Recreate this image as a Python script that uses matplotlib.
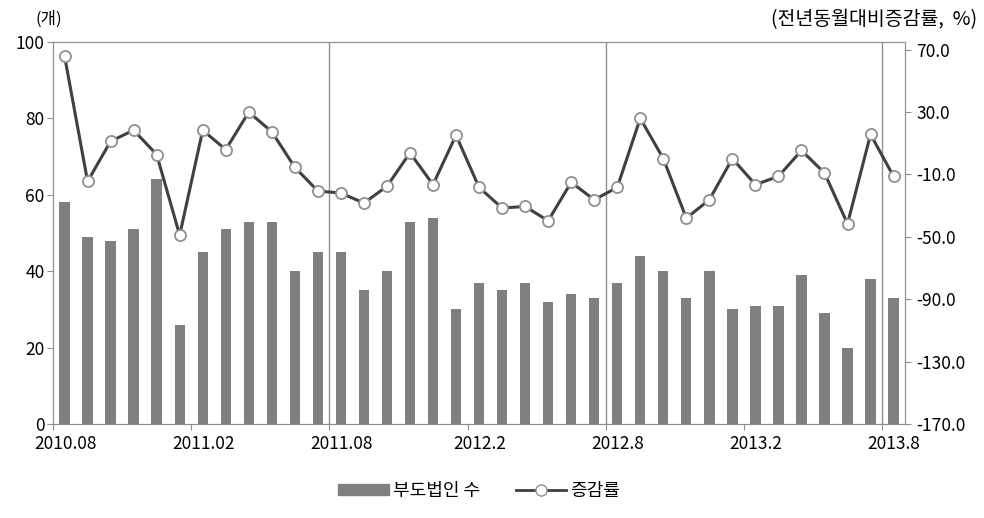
import matplotlib
matplotlib.use('Agg')
import matplotlib.pyplot as plt
import matplotlib.transforms as mtransforms
from matplotlib.lines import Line2D
from matplotlib.patches import Patch

plt.rcParams['font.family'] = ['Noto Sans CJK KR', 'DejaVu Sans']
plt.rcParams['axes.unicode_minus'] = False

# monthly data, 2010.08 - 2013.08
months = ['2010.08', '2010.09', '2010.10', '2010.11', '2010.12', '2011.01',
          '2011.02', '2011.03', '2011.04', '2011.05', '2011.06', '2011.07',
          '2011.08', '2011.09', '2011.10', '2011.11', '2011.12', '2012.01',
          '2012.02', '2012.03', '2012.04', '2012.05', '2012.06', '2012.07',
          '2012.08', '2012.09', '2012.10', '2012.11', '2012.12', '2013.01',
          '2013.02', '2013.03', '2013.04', '2013.05', '2013.06', '2013.07',
          '2013.08']
bankrupt = [58, 49, 48, 51, 64, 26, 45, 51, 53, 53, 40, 45,
            45, 35, 40, 53, 54, 30, 37, 35, 37, 32, 34, 33,
            37, 44, 40, 33, 40, 30, 31, 31, 39, 29, 20, 38, 33]
change = [66.0, -14.4, 11.3, 18.4, 2.8, -48.9, 18.4, 6.0, 30.0, 17.4, -5.4, -20.6,
          -21.9, -28.3, -17.6, 3.9, -16.5, 15.2, -18.3, -31.5, -30.5, -39.7, -15.0, -26.2,
          -18.3, 26.0, 0.2, -38.0, -26.2, 0.2, -16.5, -11.2, 5.4, -9.0, -41.6, 15.7, -11.2]
tick_idx = [0, 6, 12, 18, 24, 30, 36]
tick_labels = ['2010.08', '2011.02', '2011.08', '2012.2', '2012.8', '2013.2', '2013.8']

frame = '#909090'
fs = 12.5
fig = plt.figure(figsize=(9.84, 5.18), dpi=100)
ax = fig.add_axes([0.0539, 0.1815, 0.8659, 0.7375])
x = list(range(len(months)))

ax.bar(x, bankrupt, width=0.45, color='#7f7f7f', zorder=2)
ax.set_xlim(-0.5, len(months) - 0.5)
ax.set_ylim(0, 100)
ax.set_yticks([0, 20, 40, 60, 80, 100])
ax.set_xticks([i - 0.5 for i in tick_idx])
ax.set_xticklabels(tick_labels)
for i in [12, 24, 36]:
    ax.axvline(i - 0.5, color=frame, lw=1, zorder=1)
for s in ax.spines.values():
    s.set_color(frame)
ax.tick_params(axis='both', colors=frame, labelcolor='black', labelsize=fs, length=4)
ax.tick_params(axis='x', pad=4)
ax.tick_params(axis='y', pad=2)
# labels sit a little right of their tick marks
shift = mtransforms.ScaledTranslation(0.12, 0, fig.dpi_scale_trans)
for lab in ax.get_xticklabels():
    lab.set_transform(lab.get_transform() + shift)

ax2 = ax.twinx()
ax2.plot(x, change, color='#404040', lw=2.2, marker='o', ms=8,
         mfc='white', mec='#909090', mew=1.3, zorder=3)
ax2.set_ylim(-170, 75)
ax2.set_yticks([70, 30, -10, -50, -90, -130, -170])
ax2.set_yticklabels(['%.1f' % v for v in [70, 30, -10, -50, -90, -130, -170]])
for s in ax2.spines.values():
    s.set_color(frame)
ax2.tick_params(axis='y', colors=frame, labelcolor='black', labelsize=fs, length=4, pad=4)

fig.text(0.036, 0.963, '(개)', fontsize=12, ha='left', va='center')
fig.text(0.993, 0.963, '(전년동월대비증감률,  %)', fontsize=14, ha='right', va='center')

handles = [Patch(color='#7f7f7f'),
           Line2D([], [], color='#404040', lw=2, marker='o', ms=8, mfc='white', mec='#909090')]
fig.legend(handles, ['부도법인 수', '증감률'], loc='center', bbox_to_anchor=(0.487, 0.052),
           ncol=2, frameon=False, fontsize=13, handlelength=2.8, handleheight=0.6,
           handletextpad=0.2, columnspacing=2.0)

fig.savefig('out.png', dpi=100)
